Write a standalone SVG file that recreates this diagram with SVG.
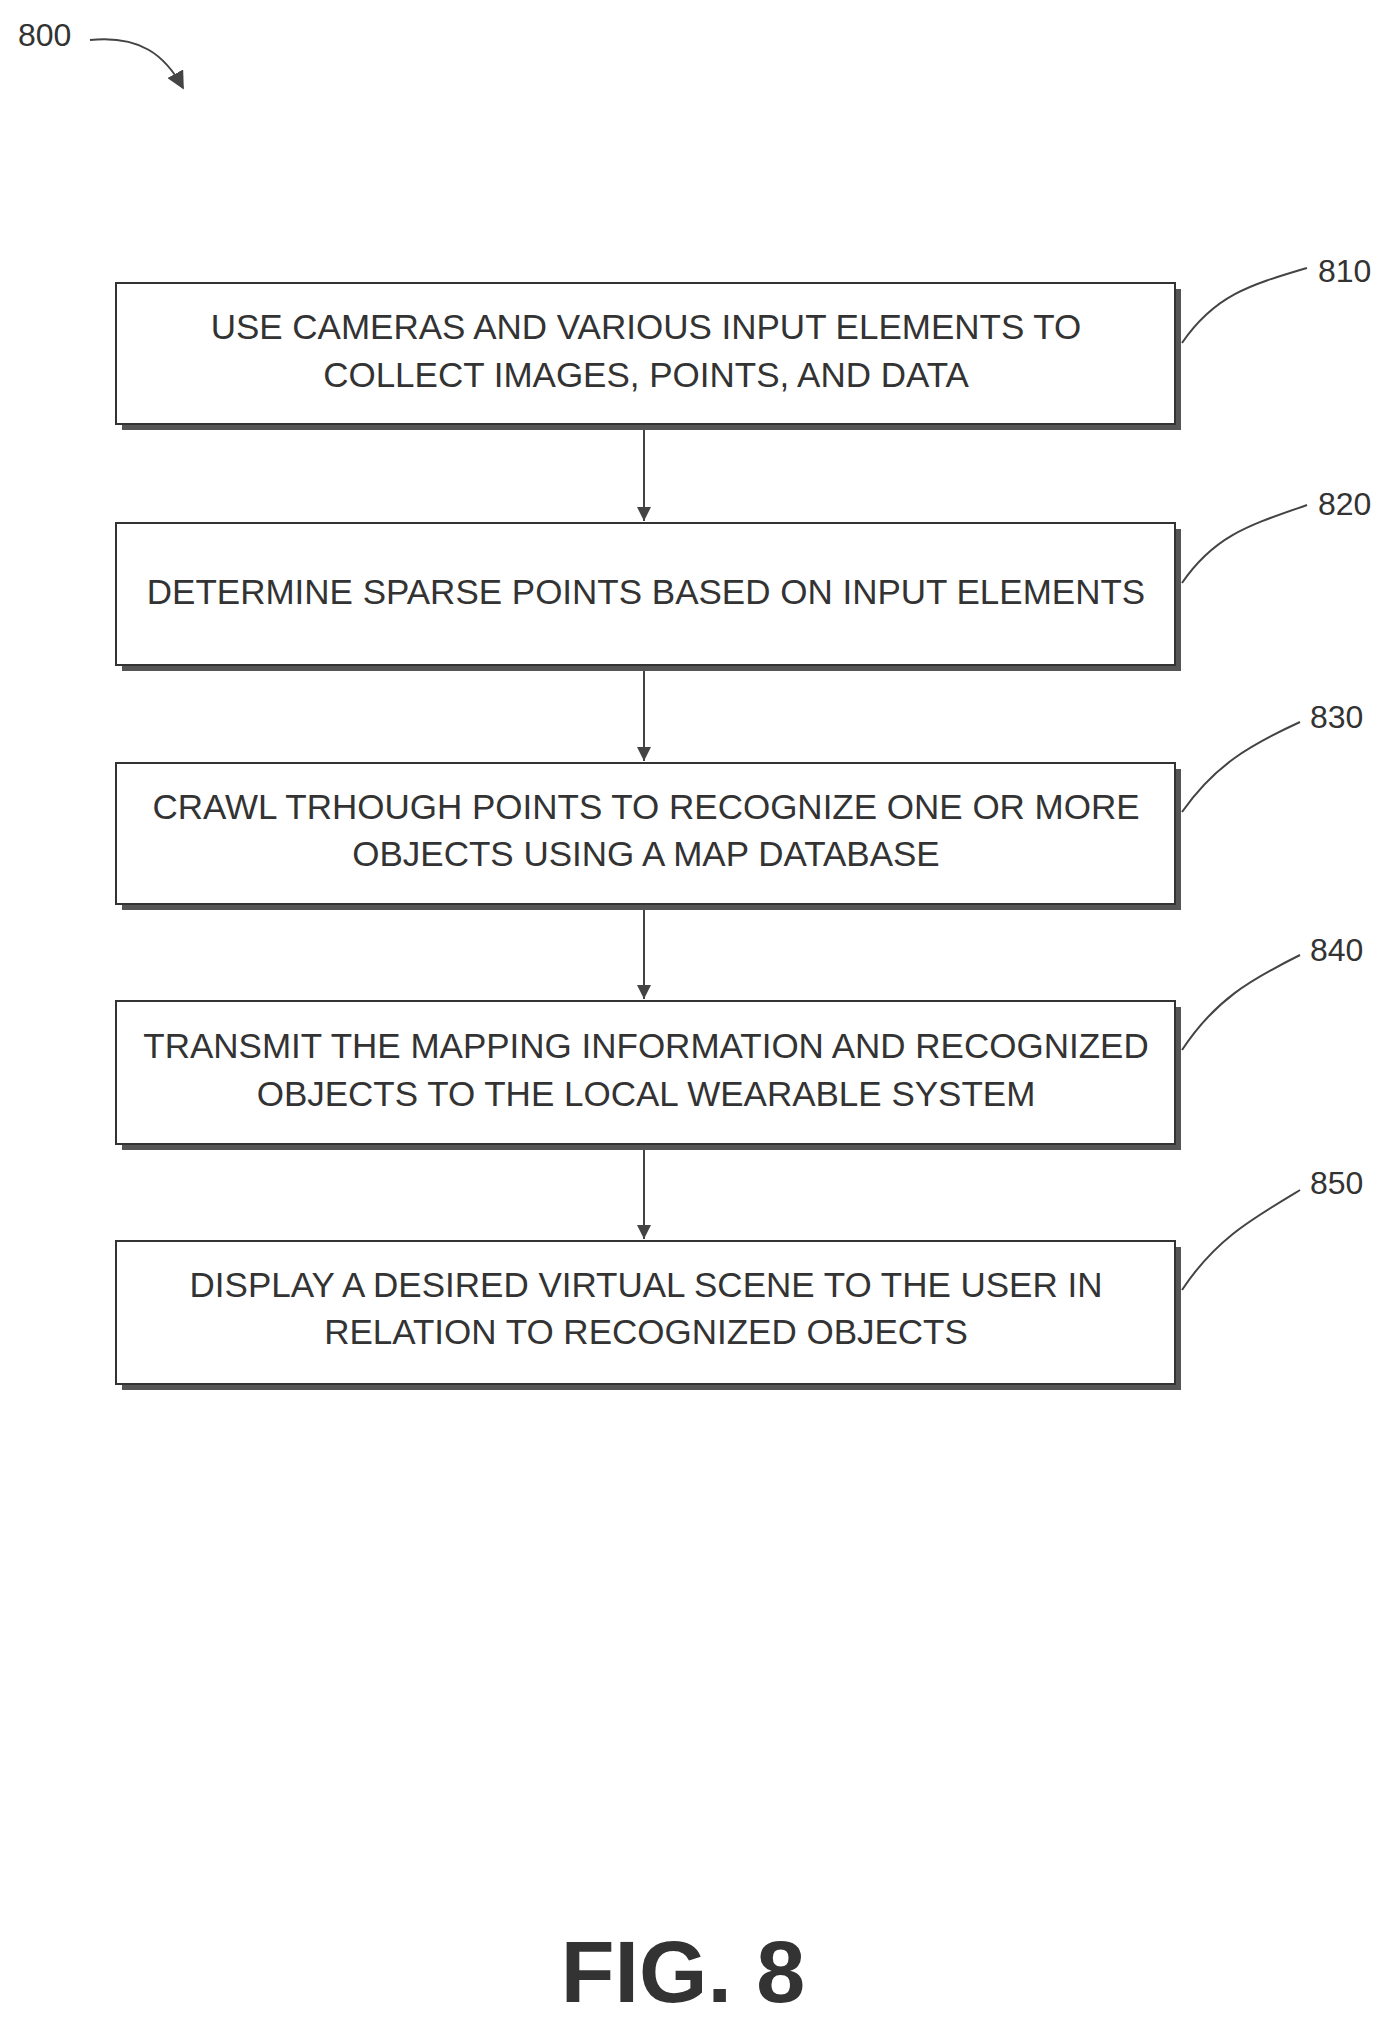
<svg xmlns="http://www.w3.org/2000/svg" width="1399" height="2021" viewBox="0 0 1399 2021">
<style>
.box{fill:#fff;stroke:#333;stroke-width:2}
.sh{fill:#555}
.t{font-family:"Liberation Sans",Arial,sans-serif;font-size:35px;fill:#333;text-anchor:middle}
.lb{font-family:"Liberation Sans",Arial,sans-serif;font-size:32px;fill:#333}
.ld{fill:none;stroke:#444;stroke-width:2}
.c{stroke:#444;stroke-width:2;fill:none}
</style>
<defs><marker id="ah" viewBox="0 0 10 10" refX="10" refY="5" markerWidth="18" markerHeight="14" orient="auto" markerUnits="userSpaceOnUse"><path d="M0,0 L10,5 L0,10 Z" fill="#444"/></marker>
<marker id="ah2" viewBox="0 0 10 10" refX="9" refY="5" markerWidth="18" markerHeight="18" orient="auto" markerUnits="userSpaceOnUse"><path d="M0,0 L10,5 L0,10 Z" fill="#444"/></marker></defs>
<text class="lb" x="18" y="46">800</text>
<path class="ld" d="M90,40 C140,35 165,55 183,88" marker-end="url(#ah2)"/>
<g id="n810"><rect class="sh" x="122" y="289" width="1059" height="141"/><rect class="box" x="116" y="283" width="1059" height="141"/><text class="t" x="646" y="339">USE CAMERAS AND VARIOUS INPUT ELEMENTS TO</text><text class="t" x="646" y="387">COLLECT IMAGES, POINTS, AND DATA</text><path class="ld" d="M1182,343 C1215,295 1250,285 1307,268"/><text class="lb" x="1318" y="282">810</text></g>
<g id="n820"><rect class="sh" x="122" y="529" width="1059" height="142"/><rect class="box" x="116" y="523" width="1059" height="142"/><text class="t" x="646" y="604">DETERMINE SPARSE POINTS BASED ON INPUT ELEMENTS</text><path class="ld" d="M1182,583 C1215,535 1250,525 1307,505"/><text class="lb" x="1318" y="515">820</text></g>
<g id="n830"><rect class="sh" x="122" y="769" width="1059" height="141"/><rect class="box" x="116" y="763" width="1059" height="141"/><text class="t" x="646" y="819">CRAWL TRHOUGH POINTS TO RECOGNIZE ONE OR MORE</text><text class="t" x="646" y="866">OBJECTS USING A MAP DATABASE</text><path class="ld" d="M1182,812 C1215,765 1250,745 1300,722"/><text class="lb" x="1310" y="728">830</text></g>
<g id="n840"><rect class="sh" x="122" y="1007" width="1059" height="143"/><rect class="box" x="116" y="1001" width="1059" height="143"/><text class="t" x="646" y="1058">TRANSMIT THE MAPPING INFORMATION AND RECOGNIZED</text><text class="t" x="646" y="1106">OBJECTS TO THE LOCAL WEARABLE SYSTEM</text><path class="ld" d="M1182,1050 C1215,1000 1250,980 1300,955"/><text class="lb" x="1310" y="961">840</text></g>
<g id="n850"><rect class="sh" x="122" y="1247" width="1059" height="143"/><rect class="box" x="116" y="1241" width="1059" height="143"/><text class="t" x="646" y="1297">DISPLAY A DESIRED VIRTUAL SCENE TO THE USER IN</text><text class="t" x="646" y="1344">RELATION TO RECOGNIZED OBJECTS</text><path class="ld" d="M1182,1290 C1215,1240 1250,1220 1300,1190"/><text class="lb" x="1310" y="1194">850</text></g>
<g id="connectors">
<line class="c" x1="644" y1="430" x2="644" y2="521" marker-end="url(#ah)"/>
<line class="c" x1="644" y1="671" x2="644" y2="761" marker-end="url(#ah)"/>
<line class="c" x1="644" y1="910" x2="644" y2="999" marker-end="url(#ah)"/>
<line class="c" x1="644" y1="1150" x2="644" y2="1239" marker-end="url(#ah)"/>
</g>
<text x="683" y="2002" font-family="Liberation Sans,Arial,sans-serif" font-weight="bold" font-size="88" fill="#333" text-anchor="middle">FIG. 8</text>
</svg>
